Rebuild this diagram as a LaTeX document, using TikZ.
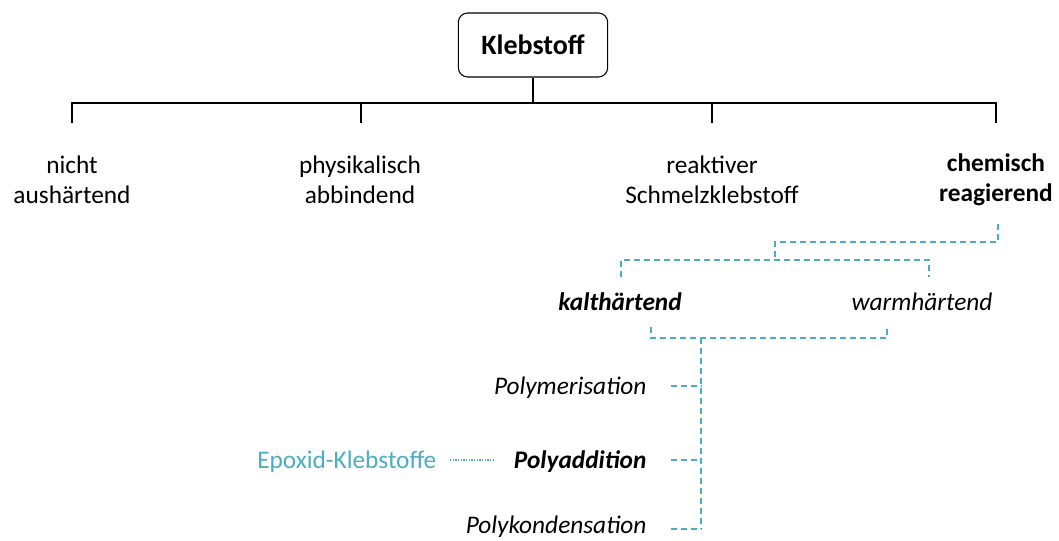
\documentclass[tikz,border=0pt]{standalone}
\usepackage{fontspec}
\setmainfont{Carlito}
\definecolor{zweig}{HTML}{4BACC6}

\begin{document}
\begin{tikzpicture}[x=0.75pt, y=-0.75pt,
    txt/.style={font=\fontsize{19}{22.5}\selectfont, align=center, inner sep=1pt},
    ast/.style={draw=zweig, line width=1pt, dash pattern=on 4.5pt off 3pt},
    pkt/.style={draw=zweig, line width=1pt, dash pattern=on 1pt off 1pt}]
    \useasboundingbox (0,0) rectangle (1059,541);

    % Wurzel
    \node[txt, font=\fontsize{21}{25}\selectfont, draw, line width=0.8pt, rounded corners=7pt, minimum width=112pt, minimum height=48pt] (K) at (533,45) {\bfseries Klebstoff};

    % Hauptgruppen
    \node[txt] (N1) at (72,180) {nicht\\aushärtend};
    \node[txt] (N2) at (360,180) {physikalisch\\abbindend};
    \node[txt] (N3) at (712,180) {reaktiver\\Schmelzklebstoff};
    \node[txt] (N4) at (996,180) {\bfseries chemisch\\\bfseries reagierend};

    % Baum (schwarz)
    \coordinate (J) at (533,103);
    \coordinate (a1) at (72,123);
    \coordinate (a2) at (361,123);
    \coordinate (a3) at (712,123);
    \coordinate (a4) at (996,123);
    \draw[line width=0.8pt] (K) -- (J);
    \draw[line width=0.8pt] (a1) |- (J) -| (a4);
    \draw[line width=0.8pt] (a2) -- (a2 |- J);
    \draw[line width=0.8pt] (a3) -- (a3 |- J);

    % Aushärtung
    \node[txt] (KH) at (620,302) {\bfseries\itshape kalthärtend};
    \node[txt] (WH) at (922,302) {\itshape warmhärtend};

    \coordinate (c0) at (998,224);
    \coordinate (c1) at (775,242);
    \coordinate (c2) at (775,260);
    \coordinate (k0) at (621,277);
    \coordinate (w0) at (929,277);
    \draw[ast] (c0) |- (c1) -- (c2);
    \draw[ast] (k0) |- (c2) -| (w0);

    % Reaktionsarten
    \node[txt, anchor=east] (P1) at (648,388) {\itshape Polymerisation};
    \node[txt, anchor=east] (P2) at (648,462) {\bfseries\itshape Polyaddition};
    \node[txt, anchor=east] (P3) at (648,527) {\itshape Polykondensation};

    \coordinate (d1) at (651,327);
    \coordinate (d2) at (887,327);
    \coordinate (dm) at (701,338);
    \coordinate (s1) at (701,386);
    \coordinate (s2) at (701,460);
    \coordinate (s3) at (701,529);
    \draw[ast] (d1) |- (dm) -| (d2);
    \draw[ast] (dm) -- (s3);
    \draw[ast] ([xshift=17pt]P1.east |- s1) -- (s1);
    \draw[ast] ([xshift=17pt]P2.east |- s2) -- (s2);
    \draw[ast] ([xshift=17pt]P3.east |- s3) -- (s3);

    % Beispiel
    \node[txt, anchor=east, text=zweig] (E) at (438,462) {Epoxid-Klebstoffe};
    \coordinate (e1) at (495,460);
    \draw[pkt] ([xshift=9pt]E.east |- e1) -- (e1);
\end{tikzpicture}
\end{document}
